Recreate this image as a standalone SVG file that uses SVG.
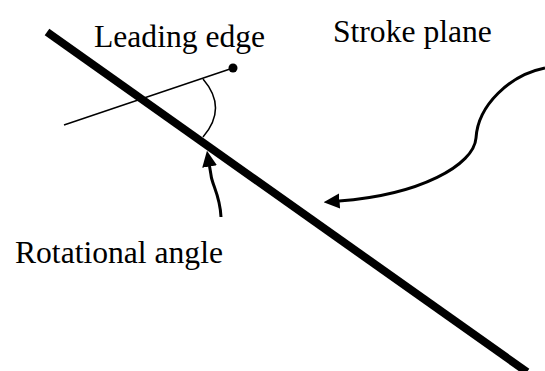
<svg xmlns="http://www.w3.org/2000/svg" width="545" height="371" viewBox="0 0 545 371">
<style>
.lbl{font-family:"Liberation Serif","Times New Roman",serif;font-size:31.6px;fill:#000}
.thin{fill:none;stroke:#000;stroke-width:1.5}
.conn{fill:none;stroke:#000;stroke-width:3}
</style>
<defs>
<marker id="ah" markerUnits="userSpaceOnUse" markerWidth="16" markerHeight="16" viewBox="0 0 15 14" refX="0.5" refY="7" orient="auto">
<path d="M0,0 L15,7 L0,14 Z" fill="#000"/>
</marker>
</defs>
<rect width="545" height="371" fill="#fff"/>
<g id="stroke-plane-line">
<line x1="47" y1="32" x2="527" y2="372" stroke="#000" stroke-width="8"/>
</g>
<g id="chord">
<line class="thin" x1="64" y1="125" x2="233" y2="68"/>
<circle cx="233" cy="68" r="4.5" fill="#000"/>
</g>
<g id="angle-arc">
<path class="thin" d="M203,79 Q228,108 203,137"/>
</g>
<g id="connectors">
<path class="conn" d="M545,68 C510,75 478,105 476,138 C474,165 420,195 339,201" marker-end="url(#ah)"/>
<path class="conn" stroke-width="2.5" d="M221,217 C220,195 212,185 211,175 L209.5,166" marker-end="url(#ah)"/>
</g>
<g id="label-leading-edge"><text class="lbl" x="94" y="47">Leading edge</text></g>
<g id="label-stroke-plane"><text class="lbl" x="333" y="42">Stroke plane</text></g>
<g id="label-rotational-angle"><text class="lbl" x="15" y="263">Rotational angle</text></g>
</svg>
